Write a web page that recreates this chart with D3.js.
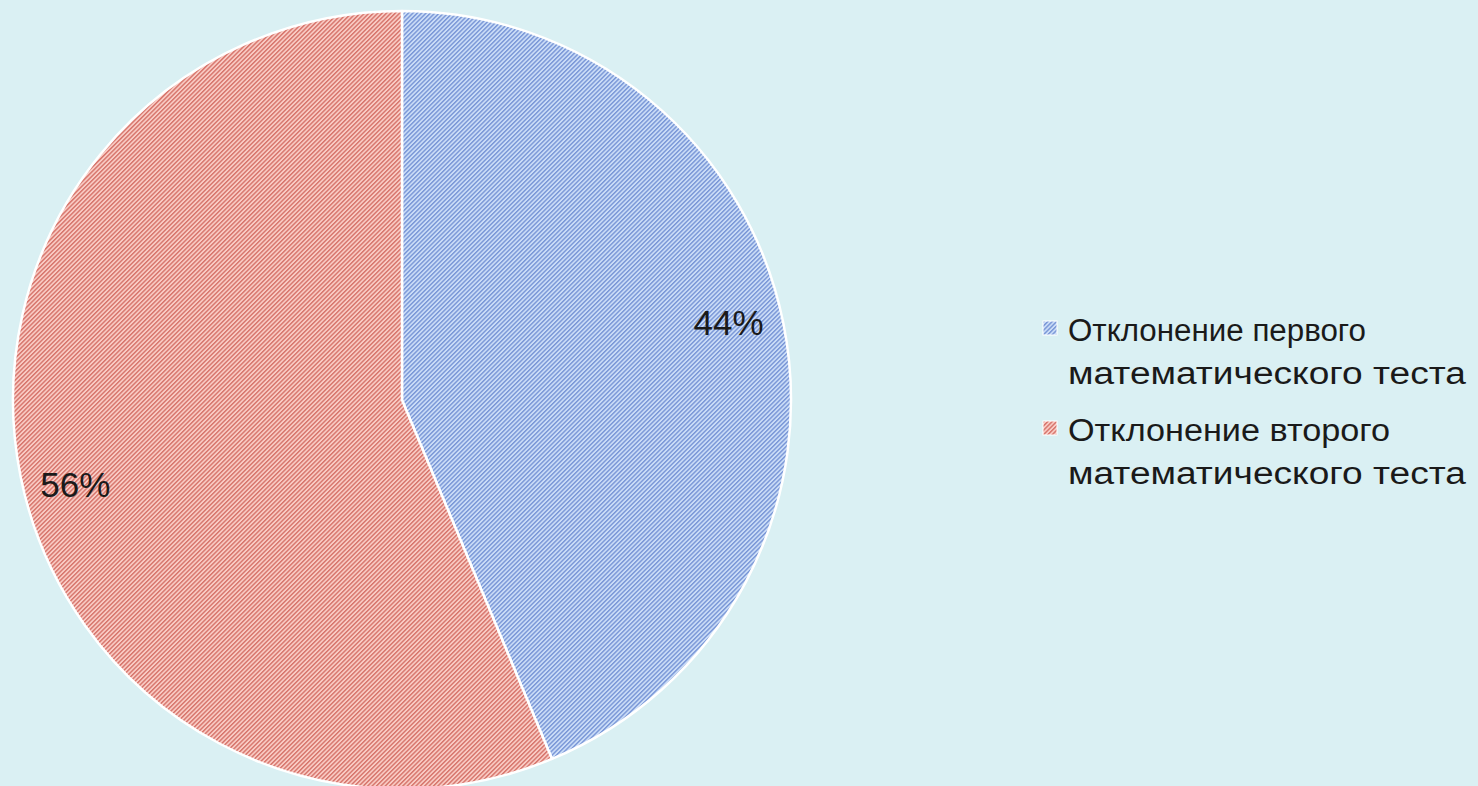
<!DOCTYPE html>
<html>
<head>
<meta charset="utf-8">
<script src="https://cdn.jsdelivr.net/npm/d3@7"></script>
<style>
  body { margin: 0; background: #daf0f3; overflow: hidden; }
  svg { display: block; }
</style>
</head>
<body>
<script>
// chart data
var categories = ["Отклонение первого математического теста", "Отклонение второго математического теста"];
var legendLines = [["Отклонение первого", "математического теста"], ["Отклонение второго", "математического теста"]];
var values = [43.7, 56.3];
var labels = ["44%", "56%"];

var width = 1478,
    height = 786;

var svg = d3.select("body")
    .append("svg")
    .attr("width", width)
    .attr("height", height);

svg.append("rect")
    .attr("width", width)
    .attr("height", height)
    .attr("fill", "#daf0f3");

//hatch patterns for the slices
var fills = [
    {id: "hatchBlue", base: "#cadcf7", line: "#7895d6"},
    {id: "hatchRed", base: "#f9cbc4", line: "#d6736a"}
];

var defs = svg.append("defs");
fills.forEach(function(f){
    var p = defs.append("pattern")
        .attr("id", f.id)
        .attr("patternUnits", "userSpaceOnUse")
        .attr("width", 3.1)
        .attr("height", 3.1)
        .attr("patternTransform", "rotate(-45)");
    p.append("rect").attr("width", 3.1).attr("height", 3.1).attr("fill", f.base);
    p.append("rect").attr("width", 3.1).attr("height", 1.4).attr("fill", f.line);
});

var cx = 402, cy = 400, radius = 389;

var pie = d3.pie()
    .sort(null)
    .value(function(d){ return d; });

var arc = d3.arc()
    .innerRadius(0)
    .outerRadius(radius);

var g = svg.append("g")
    .attr("transform", "translate(" + cx + "," + cy + ")");

var arcs = pie(values);

g.selectAll(".slice")
    .data(arcs)
    .enter()
    .append("path")
    .attr("class", "slice")
    .attr("d", arc)
    .attr("fill", function(d, i){ return "url(#" + fills[i].id + ")"; })
    .attr("stroke", "#ffffff")
    .attr("stroke-width", 2.5)
    .attr("stroke-linejoin", "round");

//percent labels, pushed toward the outer edge like Excel's inside-end
g.selectAll(".pct")
    .data(arcs)
    .enter()
    .append("text")
    .attr("class", "pct")
    .attr("transform", function(d){
        var mid = (d.startAngle + d.endAngle) / 2 - 0.045;
        var r = radius * 0.865;
        return "translate(" + (Math.sin(mid) * r) + "," + (-Math.cos(mid) * r + 3) + ")";
    })
    .attr("text-anchor", "middle")
    .attr("dy", "0.36em")
    .attr("font-family", "Liberation Sans, Arial, sans-serif")
    .attr("font-size", 35)
    .attr("fill", "#1a1a1a")
    .text(function(d, i){ return labels[i]; });

//legend
var legend = svg.append("g")
    .attr("transform", "translate(1043,0)");

//widths the legend lines take in the original rendering
var lineWidths = [[298, 398], [322, 398]];

var items = legend.selectAll(".item")
    .data(categories)
    .enter()
    .append("g")
    .attr("class", "item")
    .attr("transform", function(d, i){ return "translate(0," + (321 + i * 100) + ")"; });

items.append("rect")
    .attr("width", 14)
    .attr("height", 14)
    .attr("fill", function(d, i){ return "url(#" + fills[i].id + ")"; })
    .attr("stroke", "#ffffff")
    .attr("stroke-width", 1);

items.each(function(d, i){
    var t = d3.select(this).append("text")
        .attr("font-family", "Liberation Sans, Arial, sans-serif")
        .attr("font-size", 31)
        .attr("fill", "#1a1a1a");
    legendLines[i].forEach(function(line, j){
        t.append("tspan")
            .attr("x", 25)
            .attr("y", 20 + j * 43)
            .attr("textLength", lineWidths[i][j])
            .attr("lengthAdjust", "spacingAndGlyphs")
            .text(line);
    });
});
</script>
</body>
</html>
